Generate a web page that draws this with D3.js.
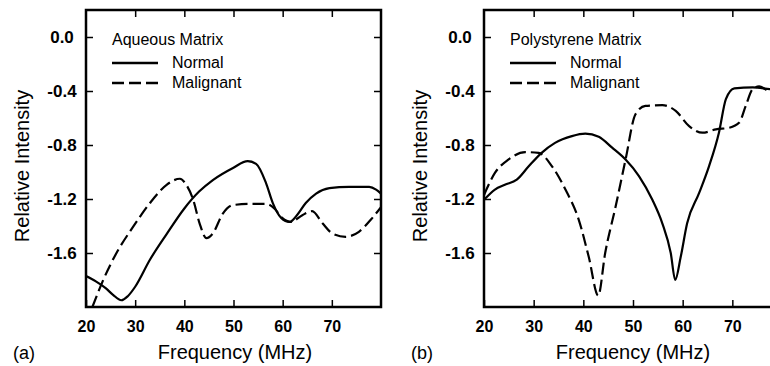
<!doctype html>
<html>
<head>
    <meta charset="utf-8">
    <title>Relative Intensity</title>
    <style>
    body { margin: 0; background: #fff; }
    svg { display: block; font-family: "Liberation Sans", Arial, sans-serif; }
    .tick text { font-size: 16px; font-weight: bold; fill: #000; }
    .tick line { stroke: #000; stroke-width: 1.5px; }
    .frame { fill: none; stroke: #000; stroke-width: 2.5px; }
    .curve { fill: none; stroke: #000; stroke-width: 2.2px; }
    </style>
    <script src="https://cdn.jsdelivr.net/npm/d3@7"></script>
</head>
<body>
    <svg width="770" height="366"></svg>
    <script>
    // frequency (MHz) / relative intensity
    var aqNormalF = [20, 22, 24, 25.5, 27.2, 28.5, 30, 33, 36.4, 40, 43, 45.8, 49.9, 52.9, 54.6, 56.6, 58, 59.7, 61.4, 62.7, 64.7, 66.8, 69.5, 73.5, 77.6, 79, 80];
    var aqNormalI = [-1.77, -1.81, -1.86, -1.91, -1.95, -1.92, -1.85, -1.65, -1.46, -1.27, -1.145, -1.06, -0.97, -0.92, -0.94, -1.08, -1.23, -1.34, -1.37, -1.33, -1.23, -1.16, -1.12, -1.11, -1.11, -1.13, -1.16];
    var aqMalignF = [21.3, 23.5, 26.2, 29.6, 33, 36.4, 39.1, 40.4, 41.8, 43.1, 44.5, 45.8, 47.8, 49.9, 53.2, 56.6, 58.3, 59.9, 61.7, 64, 66, 68.1, 70.1, 72.8, 75.5, 78, 80];
    var aqMalignI = [-2.0, -1.80, -1.60, -1.405, -1.23, -1.095, -1.05, -1.095, -1.205, -1.38, -1.49, -1.455, -1.31, -1.245, -1.236, -1.236, -1.27, -1.34, -1.37, -1.32, -1.29, -1.38, -1.455, -1.48, -1.443, -1.35, -1.26];

    var psNormalF = [20, 22.2, 24.2, 26.6, 29, 31.6, 34.3, 37.7, 40.4, 43.1, 45.8, 48.5, 51.2, 53.9, 55.9, 57.6, 58.5, 59.6, 60.9, 63.3, 65.3, 67.3, 68.7, 70.4, 74.1, 77.8, 80];
    var psNormalI = [-1.206, -1.13, -1.095, -1.057, -0.958, -0.858, -0.784, -0.734, -0.716, -0.739, -0.82, -0.908, -1.03, -1.206, -1.38, -1.60, -1.80, -1.63, -1.38, -1.157, -0.958, -0.709, -0.46, -0.38, -0.373, -0.386, -0.39];
    var psMalignF = [20, 22.2, 24.9, 28.3, 31, 33.7, 36.4, 39.1, 41.1, 43, 44.4, 46.5, 48.5, 50.5, 52.5, 55.9, 58.6, 61.3, 64, 66.7, 69.4, 71.4, 72.7, 74.1, 75.4, 77.1, 78.1, 80];
    var psMalignI = [-1.17, -1.007, -0.908, -0.853, -0.858, -0.958, -1.13, -1.356, -1.63, -1.915, -1.60, -1.256, -0.908, -0.572, -0.51, -0.505, -0.547, -0.66, -0.709, -0.684, -0.672, -0.634, -0.51, -0.386, -0.366, -0.398, -0.42, -0.45];

    var xTicks = [20, 30, 40, 50, 60, 70];
    var yTicks = [0.0, -0.4, -0.8, -1.2, -1.6];

    var panels = [
        { id: "a", title: "Aqueous Matrix", left: 86, right: 381,
          normal: d3.zip(aqNormalF, aqNormalI), malign: d3.zip(aqMalignF, aqMalignI) },
        { id: "b", title: "Polystyrene Matrix", left: 484, right: 782,
          normal: d3.zip(psNormalF, psNormalI), malign: d3.zip(psMalignF, psMalignI) }
    ];

    var svg = d3.select("svg"),
        plotTop = 10, plotBottom = 307;

    panels.forEach(function(p) {
        var x = d3.scaleLinear().domain([20, 80]).range([p.left, p.right]),
            y = d3.scaleLinear().domain([-2.0, 0.2]).range([plotBottom, plotTop]);
        var g = svg.append("g");
        var fmt = function(d) { return d.toFixed(1); };

        g.append("clipPath").attr("id", "clip-" + p.id)
            .append("rect")
            .attr("x", p.left).attr("y", plotTop)
            .attr("width", p.right - p.left).attr("height", plotBottom - plotTop);

        // ticks on all four sides, pointing inward
        g.append("g").attr("transform", "translate(0," + plotBottom + ")")
            .call(d3.axisBottom(x).tickValues(xTicks)
                .tickSizeInner(-7).tickSizeOuter(0).tickPadding(14).tickFormat(d3.format("d")))
            .call(function(s) { s.select(".domain").remove(); });
        g.append("g").attr("transform", "translate(0," + plotTop + ")")
            .call(d3.axisTop(x).tickValues(xTicks.slice(1))
                .tickSizeInner(-7).tickSizeOuter(0).tickFormat(""))
            .call(function(s) { s.select(".domain").remove(); });
        g.append("g").attr("transform", "translate(" + p.left + ",0)")
            .call(d3.axisLeft(y).tickValues(yTicks)
                .tickSizeInner(-7).tickSizeOuter(0).tickFormat(fmt))
            .call(function(s) {
                s.select(".domain").remove();
                s.selectAll(".tick text").attr("x", -24).attr("text-anchor", "middle")
                    .style("font-size", "17px");
            });
        g.append("g").attr("transform", "translate(" + p.right + ",0)")
            .call(d3.axisRight(y).tickValues(yTicks)
                .tickSizeInner(-7).tickSizeOuter(0).tickFormat(""))
            .call(function(s) { s.select(".domain").remove(); });

        g.append("rect").attr("class", "frame")
            .attr("x", p.left).attr("y", plotTop)
            .attr("width", p.right - p.left).attr("height", plotBottom - plotTop);

        var line = d3.line()
            .x(function(d) { return x(d[0]); })
            .y(function(d) { return y(d[1]); })
            .curve(d3.curveMonotoneX);

        var curves = g.append("g").attr("clip-path", "url(#clip-" + p.id + ")");
        curves.append("path").attr("class", "curve").attr("d", line(p.normal));
        curves.append("path").attr("class", "curve").attr("d", line(p.malign))
            .attr("stroke-dasharray", "12,5");

        // legend
        var lx = p.left + 26;
        g.append("text").attr("x", lx).attr("y", 45)
            .style("font-size", "16px").text(p.title);
        g.append("line").attr("x1", lx).attr("x2", lx + 46).attr("y1", 63).attr("y2", 63)
            .attr("stroke", "#000").attr("stroke-width", 2.5);
        g.append("line").attr("x1", lx).attr("x2", lx + 46).attr("y1", 83).attr("y2", 83)
            .attr("stroke", "#000").attr("stroke-width", 2.5).attr("stroke-dasharray", "12,5");
        g.append("text").attr("x", lx + 60).attr("y", 68)
            .style("font-size", "16px").text("Normal");
        g.append("text").attr("x", lx + 60).attr("y", 88)
            .style("font-size", "16px").text("Malignant");

        // axis titles and panel letter
        g.append("text")
            .attr("transform", "translate(" + (p.left - 57) + ",166) rotate(-90)")
            .attr("text-anchor", "middle")
            .style("font-size", "20px").text("Relative Intensity");
        g.append("text")
            .attr("x", p.left + 149).attr("y", 359)
            .attr("text-anchor", "middle")
            .style("font-size", "20px").text("Frequency (MHz)");
        g.append("text")
            .attr("x", p.left - 73).attr("y", 359)
            .style("font-size", "18px").text("(" + p.id + ")");
    });
    </script>
</body>
</html>
